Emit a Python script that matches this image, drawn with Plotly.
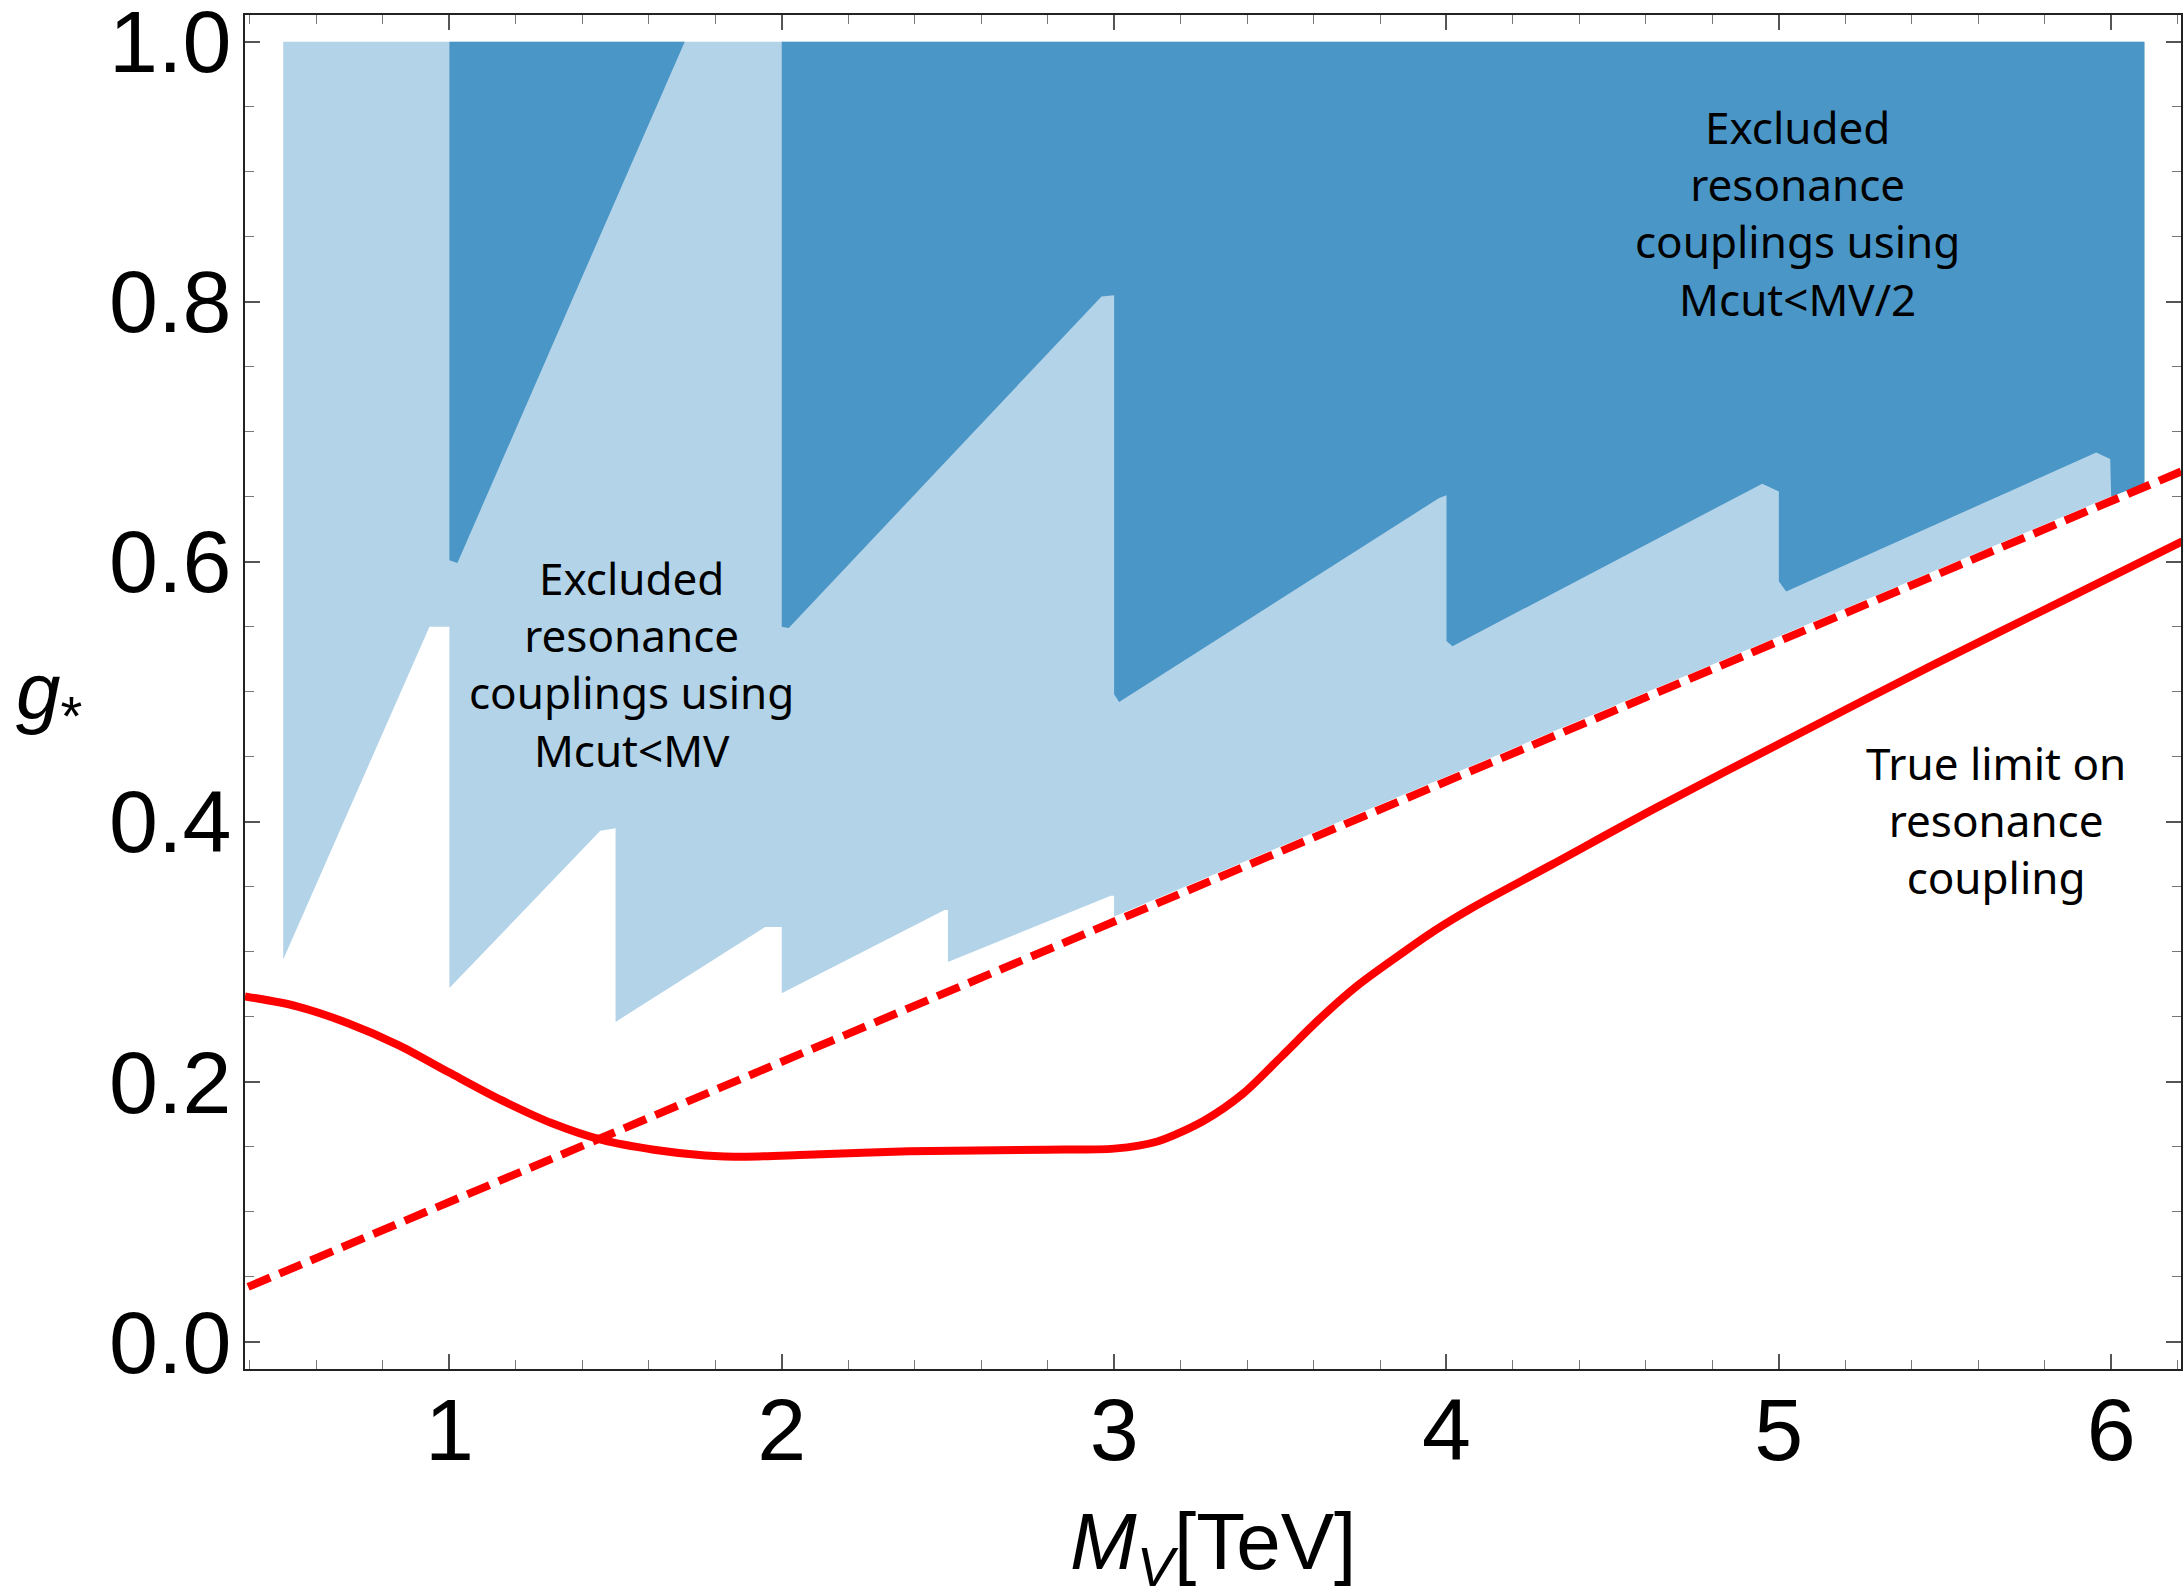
import plotly.graph_objects as go

# ---------------- data ----------------
# Light-blue region: excluded couplings using Mcut < MV (polygon vertices)
light_x = [0.5, 6.1, 6.1, 3.0, 3.0, 2.99, 2.5, 2.5, 2.49, 2.0, 2.0, 1.95, 1.5, 1.5, 1.454, 1.0, 1.0, 0.94, 0.5]
light_y = [1.0, 1.0, 0.661, 0.327, 0.343, 0.343, 0.292, 0.332, 0.332, 0.268, 0.319, 0.319, 0.246, 0.395, 0.393, 0.272, 0.55, 0.55, 0.294]

# Dark-blue region: excluded couplings using Mcut < MV/2 (two pieces)
dark1_x = [1.0, 1.708, 1.024, 1.0]
dark1_y = [1.0, 1.0, 0.599, 0.601]
dark2_x = [2.0, 6.1, 6.1, 6.0, 5.997, 5.955, 5.022, 5.0, 5.0, 4.95, 4.018, 4.0, 4.0, 3.978, 3.015, 3.0, 3.0, 2.962, 2.021, 2.0]
dark2_y = [1.0, 1.0, 0.660, 0.650, 0.679, 0.684, 0.577, 0.585, 0.654, 0.660, 0.535, 0.539, 0.651, 0.649, 0.492, 0.498, 0.805, 0.804, 0.549, 0.550]

# Dashed red line
dash_x = [0.3, 6.3]
dash_y = [0.032, 0.679]

# True limit on resonance coupling (solid red)
true_x = [0.385, 0.541, 0.695, 0.848, 1.0, 1.155, 1.309, 1.462, 1.615, 1.769, 1.892, 2.076, 2.383, 2.795,
          3.0, 3.13, 3.27, 3.387, 3.502, 3.617, 3.733, 3.848, 3.963, 4.079, 4.31, 4.633, 5.04, 5.46, 5.87, 6.214]
true_y = [0.2656, 0.258, 0.245, 0.228, 0.207, 0.186, 0.168, 0.155, 0.1477, 0.1433, 0.1423, 0.1438, 0.1464, 0.1477,
          0.1485, 0.154, 0.170, 0.1906, 0.219, 0.248, 0.274, 0.2955, 0.316, 0.334, 0.366, 0.411, 0.465, 0.520, 0.572, 0.6156]

x_ticks = [1, 2, 3, 4, 5, 6]
y_ticks = [0.0, 0.2, 0.4, 0.6, 0.8, 1.0]
y_tick_labels = ["0.0", "0.2", "0.4", "0.6", "0.8", "1.0"]

LIGHT = "#B3D3E8"
DARK = "#4A96C7"
RED = "#FF0000"
TEXT_FONT = "Noto Sans"
AX_FONT = "Liberation Sans, Arial"

fig = go.Figure()
fig.add_trace(go.Scatter(x=light_x, y=light_y, fill="toself", fillcolor=LIGHT, mode="lines",
                         line=dict(width=0, color=LIGHT), hoverinfo="skip"))
fig.add_trace(go.Scatter(x=dark1_x, y=dark1_y, fill="toself", fillcolor=DARK, mode="lines",
                         line=dict(width=0, color=DARK), hoverinfo="skip"))
fig.add_trace(go.Scatter(x=dark2_x, y=dark2_y, fill="toself", fillcolor=DARK, mode="lines",
                         line=dict(width=0, color=DARK), hoverinfo="skip"))
fig.add_trace(go.Scatter(x=dash_x, y=dash_y, mode="lines",
                         line=dict(color=RED, width=8, dash="24px,10px")))
fig.add_trace(go.Scatter(x=true_x, y=true_y, mode="lines",
                         line=dict(color=RED, width=8, shape="spline", smoothing=0.8)))

axis_common = dict(
    showgrid=False, zeroline=False, showline=True, mirror="ticks",
    linecolor="#222222", linewidth=2,
    ticks="inside", ticklen=15, tickwidth=1.5, tickcolor="#555555",
    tickfont=dict(family=AX_FONT, size=88, color="black"),
    ticklabeloverflow="allow", automargin=False,
)

fig.update_xaxes(range=[0.385, 6.21], tickvals=x_ticks, ticklabelstandoff=-17,
                 minor=dict(ticks="inside", ticklen=9, dtick=0.2, tick0=0, tickwidth=1.2, tickcolor="#777777"),
                 **axis_common)
fig.update_yaxes(range=[-0.021, 1.0205], tickvals=y_ticks, ticktext=y_tick_labels, ticklabelstandoff=-6,
                 minor=dict(ticks="inside", ticklen=9, dtick=0.05, tick0=0, tickwidth=1.2, tickcolor="#777777"),
                 **axis_common)

ann_font = dict(family=TEXT_FONT, size=44, color="black")
fig.add_annotation(x=1.549, y=0.521, xref="x", yref="y", showarrow=False, font=ann_font,
                   text="Excluded<br>resonance<br>couplings using<br>Mcut&lt;MV", align="center")
fig.add_annotation(x=5.057, y=0.868, xref="x", yref="y", showarrow=False, font=ann_font,
                   text="Excluded<br>resonance<br>couplings using<br>Mcut&lt;MV/2", align="center")
fig.add_annotation(x=5.652, y=0.401, xref="x", yref="y", showarrow=False, font=ann_font,
                   text="True limit on<br>resonance<br>coupling", align="center")

# Axis titles
fig.add_annotation(x=0.5, y=-0.132, xref="paper", yref="paper", showarrow=False,
                   xanchor="center", yanchor="middle",
                   font=dict(family=AX_FONT, size=80, color="black"),
                   text="<i>M</i><sub><i>V</i></sub>[TeV]")
fig.add_annotation(x=-0.101, y=0.497, xref="paper", yref="paper", showarrow=False,
                   xanchor="center", yanchor="middle",
                   font=dict(family=AX_FONT, size=80, color="black"),
                   text="<i>g</i><sub>*</sub>")

fig.update_layout(
    width=2184, height=1590,
    margin=dict(l=245, r=3, t=15, b=221),
    paper_bgcolor="white", plot_bgcolor="white",
    showlegend=False,
)

fig.write_html("out.html")
